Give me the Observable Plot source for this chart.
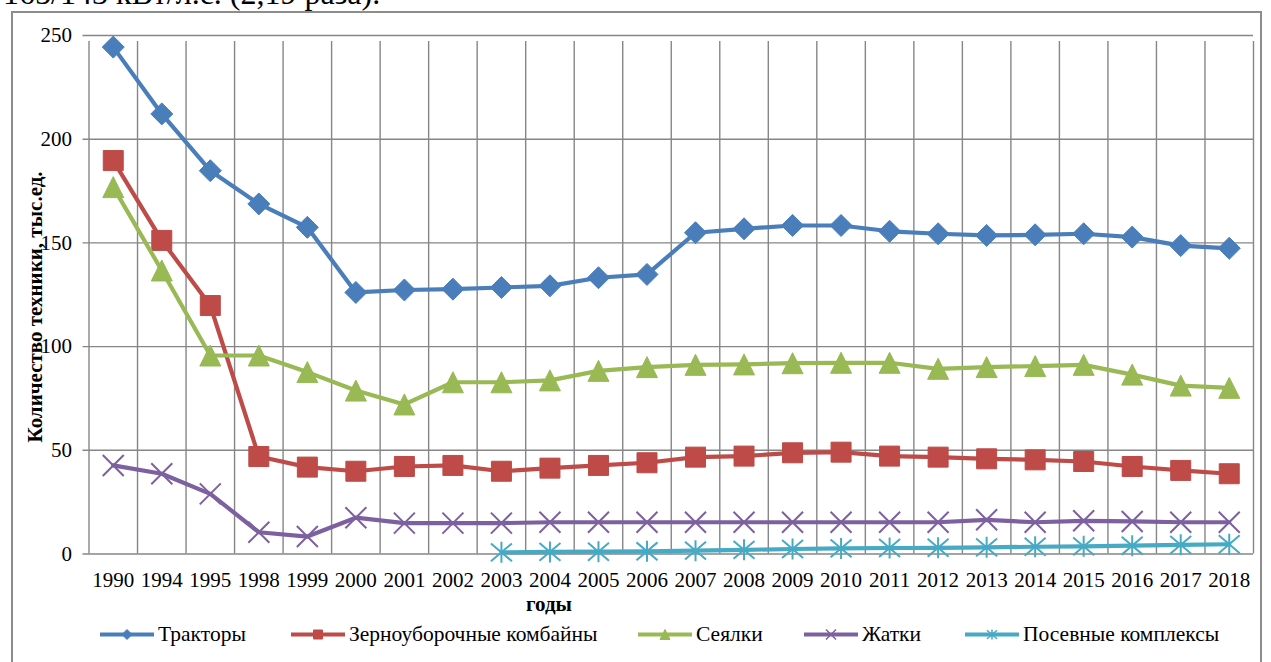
<!DOCTYPE html>
<html><head><meta charset="utf-8">
<script src="https://cdn.jsdelivr.net/npm/d3@7"></script>
<script src="https://cdn.jsdelivr.net/npm/@observablehq/plot@0.6"></script>
<style>
html,body{margin:0;padding:0;background:#fff;overflow:hidden;}
#wrap{position:relative;width:1271px;height:662px;overflow:hidden;font-family:"Liberation Serif","Times New Roman",serif;color:#000;}
#frame{position:absolute;left:11px;top:11px;width:1251px;height:720px;border:2px solid #8d8d8d;box-sizing:border-box;}
#toptext{position:absolute;left:3px;top:-23px;font-size:32px;line-height:1;white-space:nowrap;}
#chart{position:absolute;left:0;top:0;}
#ytitle{position:absolute;left:35px;top:307px;transform:translate(-50%,-50%) rotate(-90deg);font-weight:bold;font-size:21px;white-space:nowrap;}
#xtitle{position:absolute;left:549px;top:604px;transform:translate(-50%,-50%);font-weight:bold;font-size:21px;white-space:nowrap;}
.leg{position:absolute;top:634px;transform:translateY(-50%);display:flex;align-items:center;font-size:21.5px;white-space:nowrap;}
.leg svg{margin-right:3px;}
</style></head>
<body><div id="wrap">
<div id="toptext">165/143 кВт/л.с. (2,19 раза).</div>
<div id="frame"></div>
<div id="chart"></div>
<div id="ytitle">Количество техники, тыс.ед.</div>
<div id="xtitle">годы</div>
<div id="legend"></div>
</div>
<script>
const years = ["1990","1994","1995","1998","1999","2000","2001","2002","2003","2004","2005","2006","2007","2008","2009","2010","2011","2012","2013","2014","2015","2016","2017","2018"];
const tractors = [244.4,212.2,184.8,168.8,157.5,126.1,127.3,127.7,128.5,129.3,133.2,134.8,154.9,156.8,158.4,158.4,155.6,154.4,153.6,153.9,154.4,152.8,148.7,147.4];
const combines = [189.7,151.2,119.8,47.0,41.9,39.9,42.2,42.7,39.9,41.4,42.7,44.0,46.7,47.2,48.8,49.1,47.2,46.7,45.9,45.4,44.6,42.2,40.3,38.7];
const seeders = [176.9,136.7,95.7,95.7,87.7,78.8,72.1,82.8,82.8,83.7,88.3,90.1,91.2,91.4,92.0,92.2,92.2,89.3,90.1,90.6,91.2,86.5,81.2,80.1];
const headers = [42.7,38.7,29.0,10.5,8.4,17.5,14.9,14.9,14.9,15.3,15.3,15.3,15.3,15.3,15.3,15.3,15.3,15.3,16.5,15.3,16.0,15.7,15.3,15.3];
const complexes = [null,null,null,null,null,null,null,null,0.8,1.0,1.1,1.3,1.6,2.0,2.4,2.7,2.9,3.0,3.2,3.5,3.7,4.0,4.4,4.7];
const seriesNames = ["Тракторы","Зерноуборочные комбайны","Сеялки","Жатки","Посевные комплексы"];
const seriesColors = ["#4a7ebb","#be4b48","#98b954","#7d60a0","#46aac5"];
const yTicks = [0,50,100,150,200,250];

const R = s => Math.sqrt(s/Math.PI);
const symbols = [
  {draw(c,s){const r=R(s);c.moveTo(0,-r);c.lineTo(r,0);c.lineTo(0,r);c.lineTo(-r,0);c.closePath();}},
  {draw(c,s){const r=R(s);c.rect(-r,-r,2*r,2*r);}},
  {draw(c,s){const r=R(s);c.moveTo(0,-r);c.lineTo(r,r);c.lineTo(-r,r);c.closePath();}},
  {draw(c,s){const r=R(s);c.moveTo(-r,-r);c.lineTo(r,r);c.moveTo(-r,r);c.lineTo(r,-r);}},
  {draw(c,s){const r=R(s);c.moveTo(-r,-r*0.85);c.lineTo(r,r*0.85);c.moveTo(-r,r*0.85);c.lineTo(r,-r*0.85);c.moveTo(0,-r);c.lineTo(0,r);}}
];
const filled = [true,true,true,false,false];
const sizes = [11,10,10.5,10.5,10.5];
const legSizes = [5,4.5,5,5,5];
const allSeries = [tractors,combines,seeders,headers,complexes];

const boundaries = d3.range(years.length+1).map(k=>k-0.5);
const grid = "#868686";
const marks = [
  Plot.ruleX(boundaries,{y1:0,y2:250,stroke:grid,strokeWidth:1.4,insetBottom:-6}),
  Plot.ruleY(yTicks,{x1:-0.5,x2:years.length-0.5,stroke:grid,strokeWidth:1.4,insetLeft:-6}),
  Plot.axisY({ticks:yTicks,tickSize:0,tickPadding:17,label:null,fontSize:21}),
  Plot.axisX({ticks:d3.range(years.length),tickFormat:i=>years[i],tickSize:0,tickPadding:18,label:null,fontSize:21})
];
allSeries.forEach((arr,k)=>{
  const rows = years.map((y,i)=>({i,v:arr[i]})).filter(d=>d.v!=null);
  marks.push(Plot.line(rows,{x:"i",y:"v",stroke:seriesColors[k],strokeWidth:4.2}));
  marks.push(Plot.dot(rows,{x:"i",y:"v",r:sizes[k],symbol:symbols[k],
    fill:filled[k]?seriesColors[k]:"none",stroke:seriesColors[k],strokeWidth:filled[k]?1:2}));
});
const chart = Plot.plot({
  width:1271,height:662,
  marginTop:35,marginBottom:108.5,marginLeft:88.5,marginRight:18,
  x:{type:"linear",domain:[-0.5,years.length-0.5]},
  y:{domain:[0,250]},
  style:{fontFamily:"'Liberation Serif', 'Times New Roman', serif",fontSize:"21px",color:"#000",background:"transparent",overflow:"visible"},
  marks
});
document.getElementById("chart").appendChild(chart);

const legLeft = [99,290,637,803,964];
const legend = document.getElementById("legend");
seriesNames.forEach((name,k)=>{
  const item = document.createElement("div");
  item.className="leg";
  item.style.left = legLeft[k]+"px";
  const svg = d3.create("svg").attr("width",56).attr("height",20);
  svg.append("line").attr("x1",1).attr("x2",55).attr("y1",10).attr("y2",10).attr("stroke",seriesColors[k]).attr("stroke-width",4.2);
  const p = d3.path();
  symbols[k].draw(p, Math.PI*legSizes[k]*legSizes[k]);
  svg.append("path").attr("d",p.toString()).attr("transform","translate(28,10)")
    .attr("fill",filled[k]?seriesColors[k]:"none").attr("stroke",seriesColors[k]).attr("stroke-width",filled[k]?1:1.5);
  item.appendChild(svg.node());
  const t = document.createElement("span"); t.textContent = name;
  item.appendChild(t);
  legend.appendChild(item);
});
</script>
</body></html>
